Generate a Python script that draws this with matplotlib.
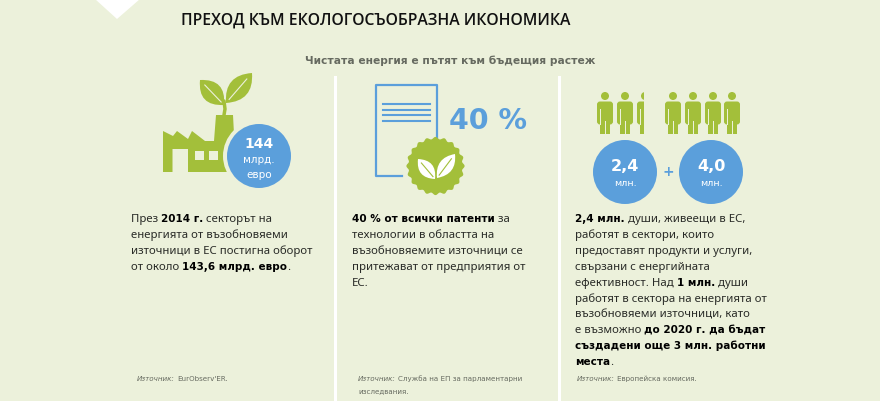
import numpy as np
import matplotlib
matplotlib.use("Agg")
import matplotlib.pyplot as plt
from matplotlib.patches import Circle, Rectangle, Polygon, PathPatch, FancyBboxPatch
from matplotlib.path import Path

BG = "#ECF1DB"; GREEN = "#A3BF3A"; BLUE = "#5B9FDB"; GREY = "#666A60"

title = "ПРЕХОД КЪМ ЕКОЛОГОСЪОБРАЗНА ИКОНОМИКА"
subtitle = "Чистата енергия е пътят към бъдещия растеж"
turnover_value = "144"
turnover_unit = ["млрд.", "евро"]
patent_share = "40 %"
jobs_values = ["2,4", "4,0"]
jobs_unit = "млн."

col1 = [[("През ", 0), ("2014 г.", 1), (" секторът на", 0)],
        [("енергията от възобновяеми", 0)],
        [("източници в ЕС постигна оборот", 0)],
        [("от около ", 0), ("143,6 млрд. евро", 1), (".", 0)]]
col2 = [[("40 % от всички патенти", 1), (" за", 0)],
        [("технологии в областта на", 0)],
        [("възобновяемите източници се", 0)],
        [("притежават от предприятия от", 0)],
        [("ЕС.", 0)]]
col3 = [[("2,4 млн.", 1), (" души, живеещи в ЕС,", 0)],
        [("работят в сектори, които", 0)],
        [("предоставят продукти и услуги,", 0)],
        [("свързани с енергийната", 0)],
        [("ефективност. Над ", 0), ("1 млн.", 1), (" души", 0)],
        [("работят в сектора на енергията от", 0)],
        [("възобновяеми източници, като", 0)],
        [("е възможно ", 0), ("до 2020 г. да бъдат", 1)],
        [("създадени още 3 млн. работни", 1)],
        [("места", 1), (".", 0)]]
src1 = ["EurObserv'ER."]
src2 = ["Служба на ЕП за парламентарни", "изследвания."]
src3 = ["Европейска комисия."]
src_label = "Източник:"

fig = plt.figure(figsize=(8.8, 4.02), dpi=100, facecolor=BG)
ax = fig.add_axes([0, 0, 1, 1])
ax.set_xlim(0, 880); ax.set_ylim(402, 0); ax.axis("off")
r = fig.canvas.get_renderer()
FONT = "DejaVu Sans"
BODY = "Noto Sans"

def runs(x, y, parts, size):
    for s, b in parts:
        t = ax.text(x, y, s.replace(" ", "\u00a0"), fontsize=7.5 if b else size,
                    family=FONT if b else BODY, color="black" if b else "#2A2C28",
                    fontweight="bold" if b else "normal", va="center_baseline", ha="left")
        x += t.get_window_extent(r).width

def block(x, y, lines, size=8.2, step=15.85):
    for i, l in enumerate(lines):
        runs(x, y + i * step, l, size)

def source(x, y, lines):
    t = ax.text(x, y, src_label, fontsize=5.1, style="italic", color=GREY, va="center", family=FONT)
    w = t.get_window_extent(r).width
    ax.text(x + w + 2, y, lines[0], fontsize=5.1, color=GREY, va="center", family=FONT)
    if len(lines) > 1:
        ax.text(x, y + 12, lines[1], fontsize=5.1, color=GREY, va="center", family=FONT)

def leaf(base, tip, width, color, vein):
    b, t = np.array(base, float), np.array(tip, float)
    d = t - b; n = np.array([-d[1], d[0]]) / np.hypot(*d) * width
    a1, a2 = b + .5 * d + n, b + .5 * d - n
    v = [b, a1, t, a2, b]
    ax.add_patch(PathPatch(Path(v, [Path.MOVETO, Path.CURVE3, Path.CURVE3, Path.CURVE3, Path.CURVE3]),
                           fc=color, ec="none", zorder=3))
    if vein:
        ax.plot([b[0] + .12 * d[0], b[0] + .8 * d[0]], [b[1] + .12 * d[1], b[1] + .8 * d[1]],
                color=vein, lw=.8, zorder=4)

def person(cx, clip=None):
    parts = [Circle((cx, 97), 4, fc=GREEN, ec="none"),
             FancyBboxPatch((cx - 8, 102.5), 16, 23, boxstyle="round,pad=0,rounding_size=3", fc=GREEN, ec="none"),
             Rectangle((cx - 5, 104), 10, 31, fc=GREEN, ec="none"),
             Rectangle((cx - .5, 122), 1, 13, fc=BG, ec="none"),
             Rectangle((cx - 5.4, 110), .9, 16, fc=BG, ec="none"),
             Rectangle((cx + 4.5, 110), .9, 16, fc=BG, ec="none")]
    for p in parts:
        ax.add_patch(p)
        if clip:
            p.set_clip_path(clip)

# top notch and dividers
ax.add_patch(Polygon([(95, 0), (140, 0), (117, 20)], fc="white", ec="none"))
for x in (335, 559):
    ax.add_patch(Rectangle((x - 1.5, 77), 3, 325, fc="white", ec="none"))

ax.text(181, 20.5, title, fontsize=11.35, family="Open Sans", fontweight=600, color="#111111", va="center")
ax.text(450, 61, subtitle, fontsize=7.7, family=FONT, fontweight="bold", color=GREY, va="center", ha="center")

# factory
factory = [(163, 173), (163, 132), (173, 137), (177, 132), (188, 140), (192, 132), (205, 142), (214, 142),
           (216, 116), (233, 116), (236, 173), (188, 173), (188, 150), (172.5, 150), (172.5, 173)]
ax.add_patch(Polygon(factory, fc=GREEN, ec="none"))
for x in (195, 209):
    ax.add_patch(Rectangle((x, 152), 9, 9, fc=BG, ec="none"))
ax.plot([224, 225, 224], [116, 110, 102], color=GREEN, lw=2.5, solid_capstyle="round")
leaf((224, 106), (200, 81), 20, GREEN, BG)
leaf((226, 104), (252, 74), 20, GREEN, BG)
ax.add_patch(Circle((259, 157), 36, fc=BG, ec="none", zorder=4))
ax.add_patch(Circle((259, 157), 32, fc=BLUE, ec="none", zorder=5))
ax.text(259, 144, turnover_value, color="white", fontsize=10, fontweight="bold", family=FONT, ha="center", va="center", zorder=6)
for i, s in enumerate(turnover_unit):
    ax.text(259, 160 + 15 * i, s, color="white", fontsize=7.5, family=FONT, ha="center", va="center", zorder=6)

# document
ax.plot([402, 375.5, 375.5, 436.5, 436.5], [177, 177, 86, 86, 150], color=BLUE, lw=1.6)
for y in (105, 111, 116, 122):
    ax.plot([383, 430], [y, y], color=BLUE, lw=1.5)
ang = np.linspace(0, 2 * np.pi, 361)
rad = 28 + 1.1 * np.cos(20 * ang)
ax.add_patch(Polygon(np.c_[435.5 + rad * np.cos(ang), 167 + rad * np.sin(ang)], fc=GREEN, ec="none", zorder=3))
leaf((435, 180), (418, 160), 14, "white", GREEN)
leaf((437, 179), (455, 155), 14, "white", GREEN)
ax.text(449, 121, patent_share, color=BLUE, fontsize=20.5, fontweight="bold", family=FONT, va="center", zorder=3)

# people
for cx in (605, 625, 673, 693, 713, 732):
    person(cx)
clip = Rectangle((634, 85), 10, 55, transform=ax.transData)
person(645, clip)

# job circles
for cx, v in zip((625, 711), jobs_values):
    ax.add_patch(Circle((cx, 173), 32, fc=BLUE, ec="none"))
    ax.text(cx, 167, v, color="white", fontsize=11.5, fontweight="bold", family=FONT, ha="center", va="center")
    ax.text(cx, 183.5, jobs_unit, color="white", fontsize=6.8, family=FONT, ha="center", va="center")
ax.text(668, 172, "+", color=BLUE, fontsize=10, fontweight="bold", family=FONT, ha="center", va="center")

block(131, 218.3, col1)
block(352, 218.3, col2)
block(575, 218.3, col3)
source(137, 379, src1)
source(358, 379, src2)
source(577, 379, src3)

fig.savefig("out.png", dpi=100, facecolor=BG)
